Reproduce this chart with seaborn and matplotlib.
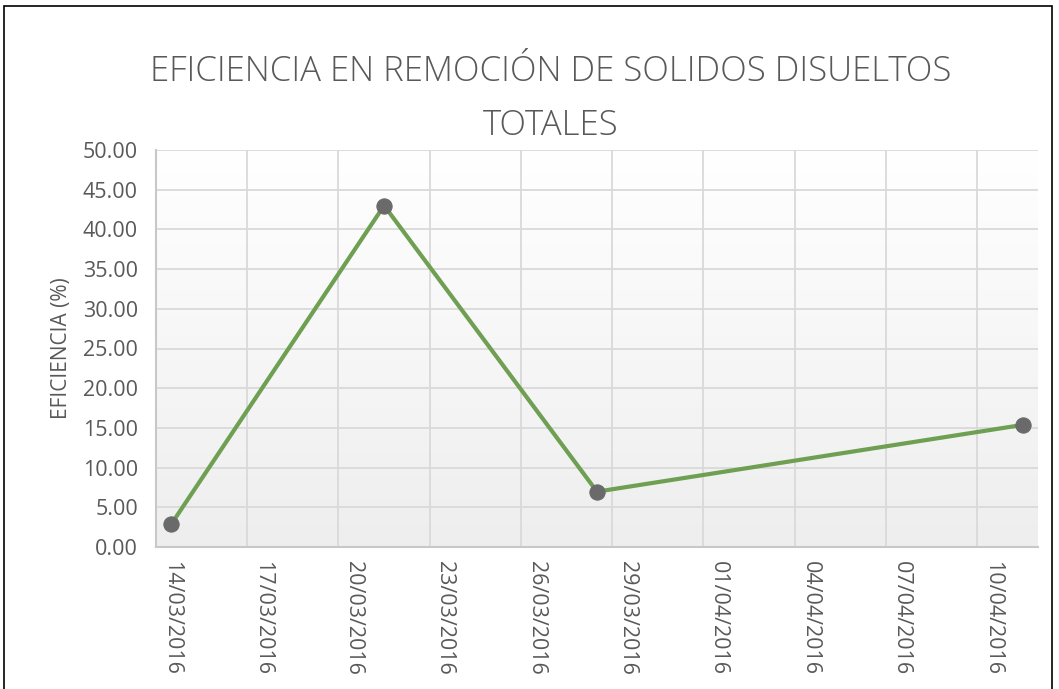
import numpy as np
import pandas as pd
import seaborn as sns
import matplotlib.pyplot as plt
import matplotlib.dates as mdates
from matplotlib.patches import Rectangle

# datos
fechas = ['2016-03-14', '2016-03-21', '2016-03-28', '2016-04-11']
eficiencia = [2.86, 43.0, 6.97, 15.38]
titulo = 'EFICIENCIA EN REMOCIÓN DE SOLIDOS DISUELTOS\nTOTALES'
ylabel = 'EFICIENCIA (%)'

df = pd.DataFrame({'fecha': pd.to_datetime(fechas), 'eficiencia': eficiencia})

sns.set_style('white')
plt.rcParams['font.family'] = ['Open Sans', 'DejaVu Sans']
gris = '#595959'
verde = '#6f9f52'

fig = plt.figure(figsize=(10.59, 6.89), dpi=100)
ax = fig.add_axes([156/1059, 1-547/689, (1038-156)/1059, (547-150)/689])

# fondo con degradado (blanco arriba, gris claro abajo)
grad = np.linspace(0, 1, 256).reshape(-1, 1)
ax.imshow(grad, extent=[0, 1, 0, 1], transform=ax.transAxes, aspect='auto',
          origin='lower',
          cmap=sns.blend_palette(['#eeeeee', '#ffffff'], as_cmap=True), zorder=0)

sns.lineplot(data=df, x='fecha', y='eficiencia', ax=ax, color=verde, linewidth=3,
             marker='o', markersize=11, markerfacecolor='#6a6a6a',
             markeredgecolor='#6a6a6a', zorder=5)

inicio = pd.Timestamp('2016-03-14')
fin = pd.Timestamp('2016-04-11')
ax.set_xlim(mdates.date2num(inicio) - 0.5, mdates.date2num(fin) + 0.5)
ax.set_ylim(0, 50)

etiquetas = pd.date_range(inicio, '2016-04-10', freq='3D')
ax.set_xticks(mdates.date2num(etiquetas))
ax.set_xticklabels([d.strftime('%d/%m/%Y') for d in etiquetas], rotation=270,
                   fontsize=15.5, color=gris)
ax.set_xticks(mdates.date2num(etiquetas[1:]) - 0.5, minor=True)
ax.set_yticks(np.arange(0, 51, 5))
ax.set_yticklabels([f'{v:.2f}' for v in np.arange(0, 51, 5)], fontsize=15.5, color=gris)
ax.tick_params(axis='x', which='both', length=0, pad=10)
ax.tick_params(axis='y', length=0, pad=13)

ax.grid(axis='y', color='#d9d9d9', linewidth=1.3)
ax.grid(axis='x', which='minor', color='#d9d9d9', linewidth=1.3)
ax.grid(axis='x', which='major', visible=False)
ax.set_axisbelow(True)
for s in ['top', 'right']:
    ax.spines[s].set_visible(False)
for s in ['left', 'bottom']:
    ax.spines[s].set_color('#c8c8c8')
    ax.spines[s].set_linewidth(1.5)

ax.set_xlabel('')
ax.set_ylabel(ylabel, fontsize=15, color=gris, labelpad=8)

fig.text(551/1059, 1-99/689, titulo, ha='center', va='center', fontsize=25,
         color=gris, linespacing=1.75, fontweight='light')

fig.patches.append(Rectangle((4/1059, -0.05), (1052-4)/1059, 1.05-6/689,
                             transform=fig.transFigure, fill=False,
                             edgecolor='black', linewidth=1.2))

fig.savefig('out.png', dpi=100)
